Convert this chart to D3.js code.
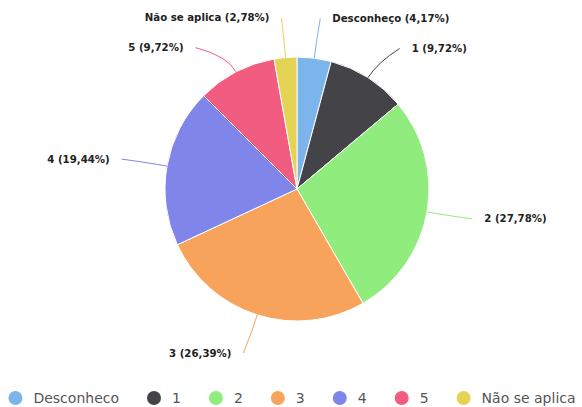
<!DOCTYPE html>
<html>
<head>
<meta charset="utf-8">
<script src="https://cdn.jsdelivr.net/npm/d3@7"></script>
<style>
  html, body { margin: 0; padding: 0; background: #fff; }
  svg { display: block; }
</style>
</head>
<body>
<svg id="chart" width="582" height="407"></svg>
<script>
// Answer categories, shares (%) and series colours
const categories = ["Desconheço", "1", "2", "3", "4", "5", "Não se aplica"];
const legendNames = ["Desconheco", "1", "2", "3", "4", "5", "Não se aplica"];
const shares = [4.17, 9.72, 27.78, 26.39, 19.44, 9.72, 2.78];
const colors = ["#7cb5ec", "#434348", "#90ed7d", "#f7a35c", "#8085e9", "#f15c80", "#e4d354"];

const W = 582, H = 407;
const cx = 297, cy = 189, radius = 132;
const labelRx = radius + 46;       // horizontal reach of the label ring
const labelRy = radius + 40;       // vertical reach of the label ring
const labelGap = 30;               // minimum vertical spacing of labels on one side
const labelTop = 17;

const svg = d3.select("#chart");
const data = categories.map((c, i) => ({ name: c, legend: legendNames[i], value: shares[i], color: colors[i] }));

const pie = d3.pie().sort(null).value(d => d.value);
const arcs = pie(data);
const arc = d3.arc().innerRadius(0).outerRadius(radius);

const g = svg.append("g").attr("transform", `translate(${cx},${cy})`);

g.selectAll("path.slice")
  .data(arcs)
  .enter().append("path")
  .attr("class", "slice")
  .attr("d", arc)
  .attr("fill", d => d.data.color)
  .attr("stroke", "#ffffff")
  .attr("stroke-width", 1)
  .attr("stroke-linejoin", "round");

// Label placement: start at the mid angle, then push apart on each side
const fmt = v => v.toFixed(2).replace(".", ",");
const labels = arcs.map(a => {
  const mid = (a.startAngle + a.endAngle) / 2;
  const y0 = -Math.cos(mid) * labelRy;
  return {
    a, mid, y0,
    right: Math.sin(mid) >= 0,
    y: y0,
    text: `${a.data.name} (${fmt(a.data.value)}%)`
  };
});

["right", "left"].forEach(side => {
  const group = labels.filter(l => (side === "right") === l.right).sort((p, q) => p.y - q.y);
  let prev = -Infinity;
  group.forEach((l, i) => {
    let y = Math.max(l.y, labelTop - cy);
    if (i > 0) y = Math.max(y, prev + labelGap);
    l.y = y;
    prev = y;
  });
});

labels.forEach(l => {
  if (Math.abs(l.y - l.y0) < 2) {
    l.x = Math.sin(l.mid) * labelRx;
  } else {
    const t = Math.max(-1, Math.min(1, l.y / labelRy));
    const dx = labelRx * Math.sqrt(1 - t * t);
    l.x = l.right ? dx : -dx;
  }
});

labels.forEach(l => {
  const ex = Math.sin(l.mid) * radius, ey = -Math.cos(l.mid) * radius;
  const kx = Math.sin(l.mid) * (radius + 18), ky = -Math.cos(l.mid) * (radius + 18);
  g.append("path")
    .attr("d", `M${l.x},${l.y}Q${kx},${ky} ${ex},${ey}`)
    .attr("fill", "none")
    .attr("stroke", l.a.data.color)
    .attr("stroke-width", 1);

  g.append("text")
    .attr("x", l.x + (l.right ? 12 : -12))
    .attr("y", l.y)
    .attr("dy", "0.35em")
    .attr("text-anchor", l.right ? "start" : "end")
    .attr("font-family", "'DejaVu Sans', Verdana, sans-serif")
    .attr("font-size", 10.2)
    .attr("font-weight", "bold")
    .attr("fill", "#222")
    .text(l.text);
});

// Legend along the bottom
const legend = svg.append("g");
const items = legend.selectAll("g.item")
  .data(data)
  .enter().append("g")
  .attr("class", "item");

items.append("circle")
  .attr("r", 7)
  .attr("cx", 0)
  .attr("cy", 0)
  .attr("fill", d => d.color);

items.append("text")
  .attr("x", 18)
  .attr("y", 0)
  .attr("dy", "0.36em")
  .attr("font-family", "'DejaVu Sans', Verdana, sans-serif")
  .attr("font-size", 14)
  .attr("fill", "#555")
  .text(d => d.legend);

const itemGap = 35;
let xpos = 0;
items.each(function () {
  const t = d3.select(this).select("text").node();
  const w = t.getComputedTextLength();
  d3.select(this).attr("transform", `translate(${xpos},0)`);
  xpos += 18 + w + itemGap;
});
const total = xpos - itemGap + 7;
legend.attr("transform", `translate(${(W - total) / 2 + 7 + 1},${398})`);
</script>
</body>
</html>
